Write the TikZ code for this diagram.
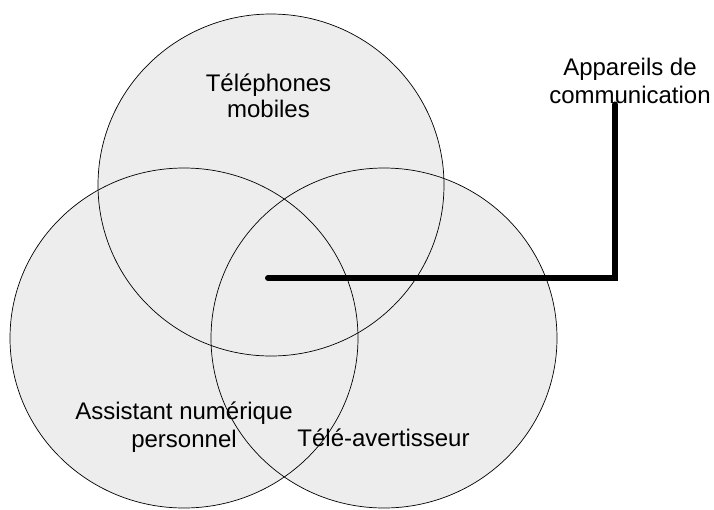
\documentclass[tikz,border=0pt]{standalone}
\usepackage{fontspec}
\setmainfont{Liberation Sans}
\begin{document}
\begin{tikzpicture}[x=1pt,y=-1pt,
  setfill/.style={fill=black!7},
  setline/.style={draw=black, line width=0.7pt},
  lbl/.style={font=\fontsize{24}{28}\selectfont, align=center, inner sep=0pt, anchor=base},
  conn/.style={line width=6pt, line cap=round, line join=miter}]
\useasboundingbox (0,0) rectangle (714,509);
% fills first
\fill[setfill] (271,185) ellipse [x radius=173, y radius=171];
\fill[setfill] (184,338) ellipse [x radius=174, y radius=170];
\fill[setfill] (384,338) ellipse [x radius=173, y radius=170];
% outlines
\draw[setline] (271,185) ellipse [x radius=173, y radius=171];
\draw[setline] (184,338) ellipse [x radius=174, y radius=170];
\draw[setline] (384,338) ellipse [x radius=173, y radius=170];
% labels (base anchor = baseline of the last line)
\node[lbl, font=\fontsize{24}{26}\selectfont] (tel) at (268.5,117) {Téléphones\\mobiles};
\node[lbl] (pda) at (184,447) {Assistant numérique\\personnel};
\node[lbl] (bip) at (383.5,446) {Télé-avertisseur};
\node[lbl] (dev) at (630,103) {Appareils de\\communication};
% connector
\coordinate (hub) at (268,278);
\draw[conn] (hub) -| ([xshift=-15pt,yshift=-1pt]dev.south);
\end{tikzpicture}
\end{document}
